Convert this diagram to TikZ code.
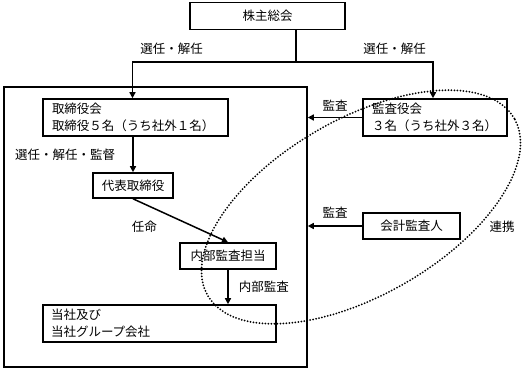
\documentclass[tikz,border=0pt]{standalone}
\usepackage{fontspec}
\setmainfont{Noto Sans CJK JP}
\usepackage{tikz}
\usetikzlibrary{arrows.meta,positioning,shapes.geometric,calc}

\begin{document}
\begin{tikzpicture}[
  x=1pt, y=-1pt,
  font=\fontsize{12.5}{17}\selectfont,
  box/.style={draw, line width=1.6pt, minimum height=26pt, inner sep=0pt},
  wide/.style={box, align=left, minimum height=37pt, inner xsep=9pt},
  arr/.style={-{Triangle[length=6pt,width=6pt]}, line width=1.5pt},
  lbl/.style={font=\fontsize{12.5}{14}\selectfont, inner sep=1pt},
  link/.style={draw, ellipse, inner sep=0pt, line width=2pt, line cap=round,
               dash pattern=on 0pt off 3pt}
]
\useasboundingbox (0,0) rectangle (528,370);

% boxes
\node[box, minimum width=155pt, minimum height=27pt] (soukai) at (267.5,16) {株主総会};
\node[draw, line width=1.6pt, minimum width=303pt, minimum height=280pt, inner sep=0pt]
  (group) at (155.5,227) {};
\node[wide, text width=167pt] (board) at (135.5,117.5)
  {取締役会\\取締役５名（うち社外１名）};
\node[wide, text width=126pt] (kansa) at (435,117.5)
  {監査役会\\３名（うち社外３名）};
\node[box, minimum width=80pt, minimum height=25pt] (daihyo) at (133,185.5) {代表取締役};
\node[box, minimum width=96pt] (naibu) at (228,256) {内部監査担当};
\node[wide, text width=217pt, inner xsep=8pt] (tousha) at (159.5,323.5)
  {当社及び\\当社グループ会社};
\node[box, minimum width=97pt] (kaikei) at (411.5,226) {会計監査人};

% connectors
\coordinate (fork) at (296,62);
\draw[line width=1.5pt] (soukai.south -| fork) -- (fork);
\draw[arr] (fork) -| ([xshift=-3pt]board.north)
  node[lbl, pos=0.38, above=6pt] {選任・解任};
\draw[arr] (fork) -| ([xshift=-2pt]kansa.north)
  node[lbl, pos=0.36, above=6pt] {選任・解任};
\draw[arr] (kansa.west) -- (kansa.west -| group.east)
  node[lbl, midway, above=5pt] {監査};
\draw[arr] (kaikei.west) -- (kaikei.west -| group.east)
  node[lbl, midway, above=6pt] {監査};
\draw[arr] (daihyo.north |- board.south) -- (daihyo.north)
  node[lbl, midway, left=16pt] {選任・解任・監督};
\draw[arr] (daihyo.south) -- (naibu.north)
  node[lbl, pos=0.5, anchor=east, xshift=-22pt, yshift=-6.5pt] {任命};
\draw[arr] (naibu.south) -- (naibu.south |- tousha.north)
  node[lbl, midway, right=9pt] {内部監査};

\node[lbl] (renkeilbl) at (502,227) {連携};

\node[link, minimum width=354pt, minimum height=176pt, rotate=30] (renkei) at (361,207) {};

\end{tikzpicture}
\end{document}
